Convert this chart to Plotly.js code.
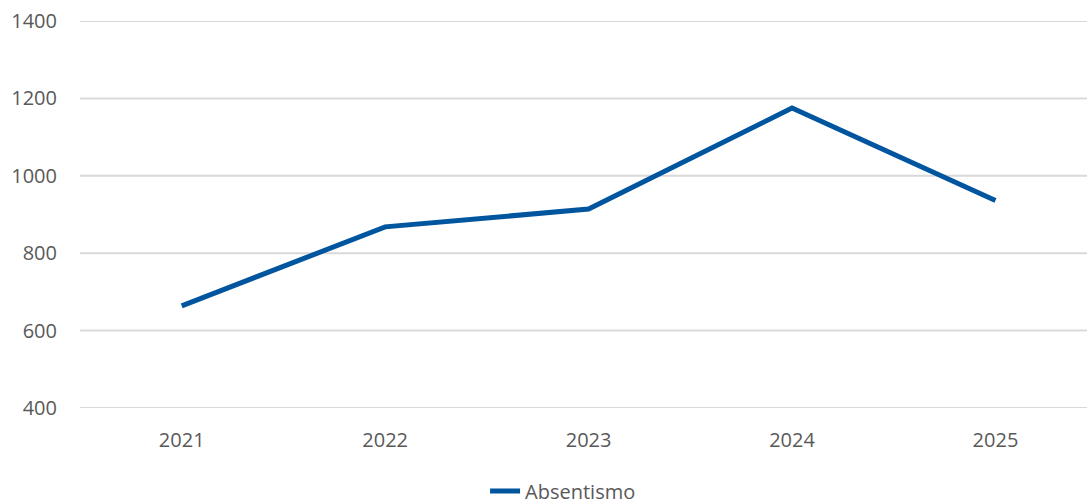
<!DOCTYPE html>
<html>
<head>
<meta charset="utf-8">
<script src="https://cdn.plot.ly/plotly-3.0.1.min.js"></script>
<style>html,body{margin:0;padding:0;background:#fff;}#chart{width:1087px;height:504px;}</style>
</head>
<body>
<div id="chart"></div>
<script>
const years = ["2021", "2022", "2023", "2024", "2025"];
const absentismo = [664, 868, 914, 1175, 936];
const seriesName = "Absentismo";
const yTicks = [400, 600, 800, 1000, 1200, 1400];

const trace = {
  x: years,
  y: absentismo,
  type: "scatter",
  mode: "lines",
  name: seriesName,
  line: {color: "#00559f", width: 5, shape: "linear"},
  cliponaxis: false
};

const gridShapes = yTicks.map(v => ({
  type: "line", xref: "paper", yref: "y",
  x0: 0, x1: 1, y0: v, y1: v,
  line: {color: "#d9d9d9", width: 2},
  layer: "below"
}));

const layout = {
  width: 1087,
  height: 504,
  margin: {l: 80, r: 0, t: 21, b: 96, autoexpand: false},
  paper_bgcolor: "#ffffff",
  plot_bgcolor: "#ffffff",
  font: {family: "Open Sans, sans-serif", size: 20, color: "#595959"},
  showlegend: true,
  legend: {
    orientation: "h",
    xref: "container", yref: "container",
    x: 0.518, xanchor: "center",
    y: 0.026, yanchor: "middle",
    font: {size: 20, color: "#595959"},
    itemclick: false
  },
  shapes: gridShapes,
  xaxis: {
    type: "category",
    range: [-0.5, 4.45],
    showgrid: false,
    zeroline: false,
    showline: false,
    ticks: "",
    ticklabelstandoff: 18,
    fixedrange: true
  },
  yaxis: {
    range: [400, 1400],
    tickvals: yTicks,
    showgrid: false,
    zeroline: false,
    showline: false,
    ticks: "",
    ticklabelstandoff: 22,
    fixedrange: true
  }
};

Plotly.newPlot("chart", [trace], layout, {displayModeBar: false, staticPlot: true});
</script>
</body>
</html>
